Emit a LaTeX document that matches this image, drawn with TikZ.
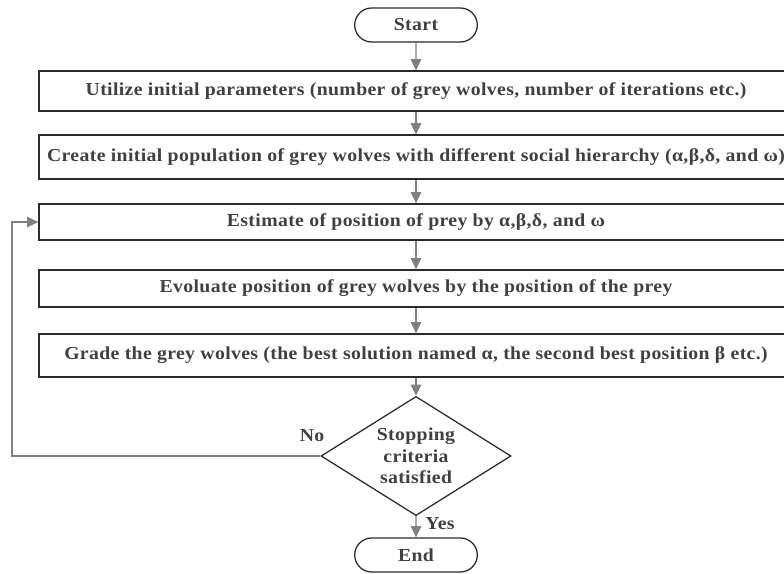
\documentclass[tikz,border=0pt]{standalone}
\usepackage{fontspec}
\setmainfont{Liberation Serif}[FakeStretch=1.08, LetterSpace=2]
\usetikzlibrary{shapes.geometric,shapes.misc,arrows.meta}
\definecolor{arrowgrey}{HTML}{808080}
\definecolor{textgrey}{HTML}{404040}
\definecolor{framegrey}{HTML}{2B2B2B}
\tikzset{
	% ---- default
	every node/.style={font=\bfseries\fontsize{13}{15.2}\selectfont, text=textgrey},
	% ---- custom
	terminal/.style={rounded rectangle, draw=framegrey, line width=0.9pt, minimum width=3.3cm, minimum height=0.85cm},
	process/.style={rectangle, draw=framegrey, line width=0.9pt, minimum width=18.85cm, minimum height=1cm},
	decision/.style={diamond, aspect=1.6, draw=framegrey, line width=0.9pt, minimum width=4.75cm, minimum height=2.98cm, align=center, inner sep=0pt},
	flow/.style={draw=arrowgrey, line width=1.05pt, -{Triangle[length=2.8mm, width=2.6mm, fill=arrowgrey]}},
}

\begin{document}
\begin{tikzpicture}

% parameters %{{{2

	\def\colx{10.4}
	\def\loopx{0.3}

% canvas %{{{2

	\useasboundingbox (0,0) rectangle (19.6,-14.35);

% nodes %{{{2

	\node[terminal] (start) at (\colx,-0.625) {Start};

	\node[process, minimum height=1.0cm] (init) at (\colx,-2.275)
	{Utilize initial parameters (number of grey wolves, number of iterations etc.)};

	\node[process, minimum height=1.1cm] (population) at (\colx,-3.925)
	{Create initial population of grey wolves with different social hierarchy (α,β,δ, and ω)};

	\node[process, minimum height=0.9cm] (estimate) at (\colx,-5.55)
	{Estimate of position of prey by α,β,δ, and ω};

	\node[process, minimum height=0.925cm] (evaluate) at (\colx,-7.2125)
	{Evoluate position of grey wolves by the position of the prey};

	\node[process, minimum height=1.075cm] (grade) at (\colx,-8.8875)
	{Grade the grey wolves (the best solution named α, the second best position β etc.)};

	\node[decision] (check) at (\colx,-11.4) {Stopping\\criteria\\satisfied};

	\node[terminal] (end) at (\colx,-13.875) {End};

% coordinates %{{{2

	\coordinate (loop) at (\loopx,-11.4);

% connectors %{{{2

	\draw[flow] (start) -- (init);
	\draw[flow] (init) -- (population);
	\draw[flow] (population) -- (estimate);
	\draw[flow] (estimate) -- (evaluate);
	\draw[flow] (evaluate) -- (grade);
	\draw[flow] (grade) -- (check);
	\draw[flow] (check) -- (end);

	\draw[flow] (check.west) -- (loop) |- (estimate.west);

% labels %{{{2

	\node (no) at (7.8,-10.9) {No};
	\node (yes) at (11.0,-13.1) {Yes};

% closing %{{{2

\end{tikzpicture}
\end{document}
